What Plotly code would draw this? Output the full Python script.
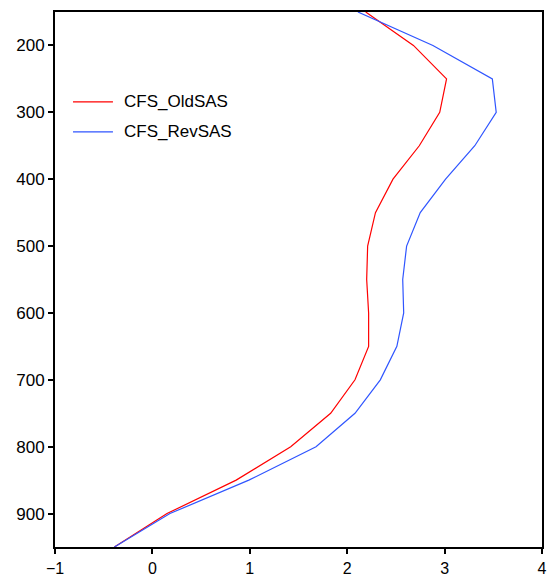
import plotly.graph_objects as go

# Pressure levels (hPa)
levels = [150, 200, 250, 300, 350, 400, 450, 500, 550, 600, 650, 700, 750, 800, 850, 900, 950]

# Profiles for the two runs
old_sas = [2.19, 2.68, 3.02, 2.95, 2.74, 2.47, 2.29, 2.21, 2.20, 2.22, 2.22, 2.08, 1.83, 1.42, 0.86, 0.15, -0.39]
rev_sas = [2.11, 2.88, 3.49, 3.53, 3.31, 3.01, 2.75, 2.61, 2.57, 2.58, 2.51, 2.34, 2.08, 1.68, 0.99, 0.18, -0.39]

series_names = ["CFS_OldSAS", "CFS_RevSAS"]
series_colors = ["#ff0000", "#2f55ff"]

FONT = "Liberation Sans, Arial, sans-serif"

fig = go.Figure()
for name, vals, col in zip(series_names, [old_sas, rev_sas], series_colors):
    fig.add_trace(go.Scatter(
        x=vals, y=levels, mode="lines", name=name,
        line=dict(color=col, width=1.2), showlegend=False,
    ))

# Legend drawn as short line samples with labels inside the plot box
leg_y = [0.832, 0.776]
for name, col, yy in zip(series_names, series_colors, leg_y):
    fig.add_shape(type="line", xref="paper", yref="paper",
                  x0=0.037, x1=0.119, y0=yy, y1=yy,
                  line=dict(color=col, width=1.2))
    fig.add_annotation(xref="paper", yref="paper", x=0.138, y=yy,
                       text=name, showarrow=False, xanchor="left", yanchor="middle",
                       font=dict(family=FONT, size=17, color="black"))

fig.update_xaxes(
    range=[-1, 4], tickvals=[-1, 0, 1, 2, 3, 4], ticktext=["\u22121", "0", "1", "2", "3", "4"],
    showgrid=False, zeroline=False, showline=True, linecolor="black", linewidth=2,
    mirror=True, ticks="outside", ticklen=5, tickwidth=1.5, tickcolor="black",
    tickfont=dict(family=FONT, size=16, color="black"), automargin=False,
    ticklabelstandoff=1,
)
fig.update_yaxes(
    range=[950, 150], tickvals=[200, 300, 400, 500, 600, 700, 800, 900],
    showgrid=False, zeroline=False, showline=True, linecolor="black", linewidth=2,
    mirror=True, ticks="outside", ticklen=5, tickwidth=1.5, tickcolor="black",
    tickfont=dict(family=FONT, size=17, color="black"), automargin=False,
)

fig.update_layout(
    width=547, height=578,
    margin=dict(l=55, r=5, t=12, b=31),
    plot_bgcolor="white", paper_bgcolor="white",
)

fig.write_html("out.html")
